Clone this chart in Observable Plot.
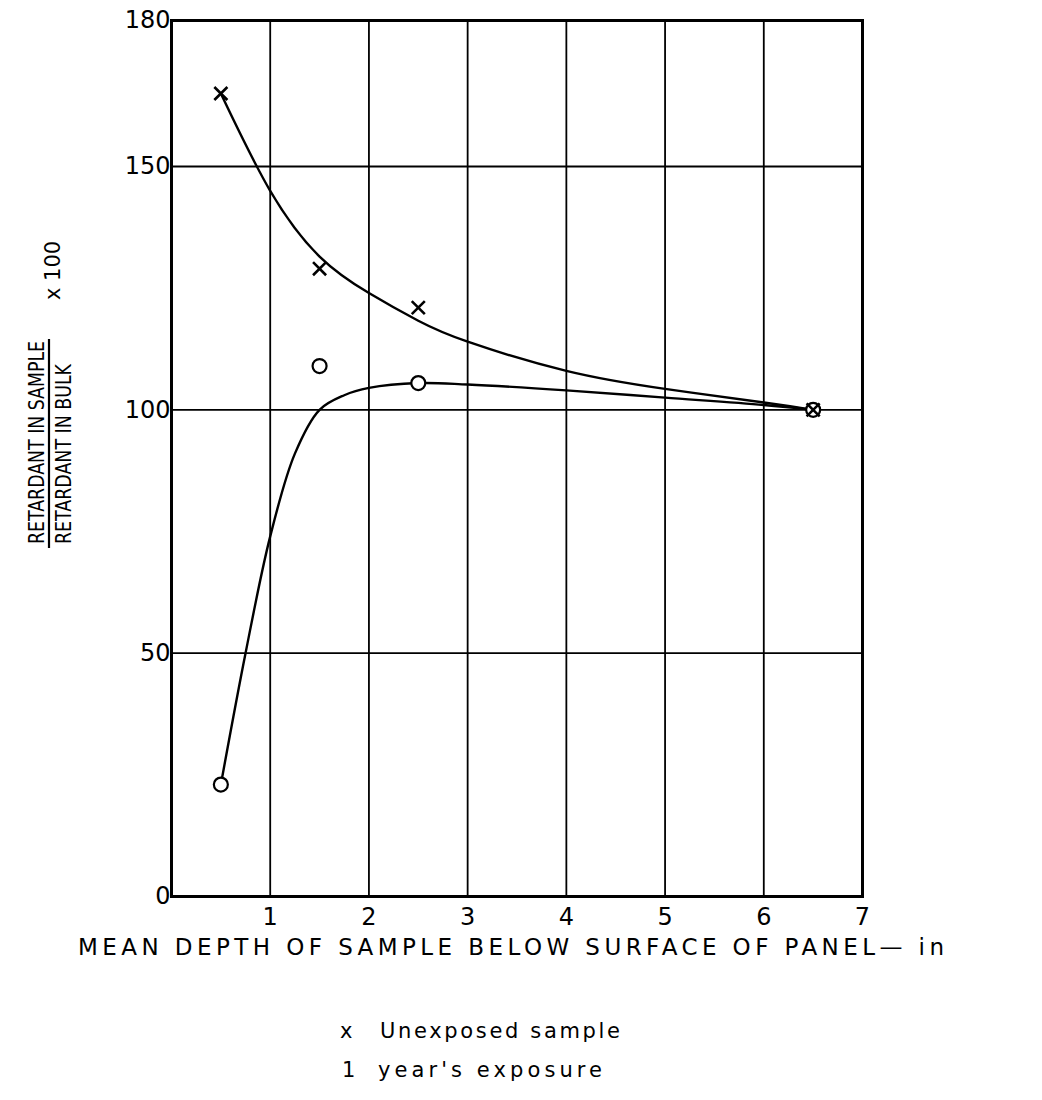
<!DOCTYPE html>
<html><head><meta charset="utf-8">
<script src="https://cdn.jsdelivr.net/npm/d3@7"></script>
<script src="https://cdn.jsdelivr.net/npm/@observablehq/plot@0.6"></script>
<style>
body{margin:0;background:#fff}
#chart{position:relative;width:1042px;height:1100px}
</style></head><body><div id="chart"></div>
<script>
// Data
const unexposedX = [0.5, 1.5, 2.5, 6.5];
const unexposedY = [165, 129, 121, 100];
const exposedX = [0.5, 1.5, 2.5, 6.5];
const exposedY = [23, 109, 105.5, 100];
const upperCurveX = [0.5, 1, 1.5, 2, 2.5, 3, 4, 5, 6, 6.5];
const upperCurveY = [165, 145, 131.5, 124, 118.3, 114, 108, 104.3, 101.5, 100];
const lowerCurveX = [0.5, 0.75, 1, 1.25, 1.5, 1.75, 2, 2.5, 3, 4, 5, 6, 6.5];
const lowerCurveY = [23, 50, 74, 91, 100, 103, 104.5, 105.5, 105.2, 104, 102.5, 101, 100];
const xTicks = [1, 2, 3, 4, 5, 6, 7];
const yTicks = [0, 50, 100, 150, 180];
const gridXValues = [1, 2, 3, 4, 5, 6];
const gridYValues = [50, 100, 150];
const xLabel = "MEAN DEPTH OF SAMPLE BELOW SURFACE OF PANEL\u2014 in";
const yNumerator = "RETARDANT IN SAMPLE";
const yDenominator = "RETARDANT IN BULK";
const yFactor = "x 100";
const legendSymbols = ["x", "1"];
const legendLabels = ["Unexposed sample", "year's exposure"];

const unexposed = unexposedX.map((x, i) => ({x, y: unexposedY[i]}));
const exposed = exposedX.map((x, i) => ({x, y: exposedY[i]}));
const upper = upperCurveX.map((x, i) => ({x, y: upperCurveY[i]}));
const lower = lowerCurveX.map((x, i) => ({x, y: lowerCurveY[i]}));

const FONT = "DejaVu Sans";
const svg = Plot.plot({
  width: 1042,
  height: 1100,
  marginTop: 20,
  marginLeft: 171,
  marginRight: 180,
  marginBottom: 204,
  style: {fontFamily: FONT, fontSize: "24px", color: "black", background: "white"},
  x: {domain: [0, 7], ticks: xTicks, tickSize: 0, tickPadding: 11, label: null, tickFormat: d => String(d)},
  y: {domain: [0, 180], ticks: yTicks, tickSize: 0, tickPadding: 1, label: null, tickFormat: d => String(d)},
  marks: [
    Plot.ruleX(gridXValues, {stroke: "black", strokeWidth: 1.8}),
    Plot.ruleY(gridYValues, {stroke: "black", strokeWidth: 1.8}),
    Plot.frame({stroke: "black", strokeWidth: 3}),
    Plot.line(upper, {x: "x", y: "y", curve: "natural", stroke: "black", strokeWidth: 2.4}),
    Plot.line(lower, {x: "x", y: "y", curve: "catmull-rom", stroke: "black", strokeWidth: 2.4}),
    Plot.dot(exposed, {x: "x", y: "y", symbol: "circle", r: 7, fill: "white", stroke: "black", strokeWidth: 2.2}),
    Plot.dot(unexposed, {x: "x", y: "y", symbol: "times", r: 6, stroke: "black", strokeWidth: 2.6})
  ]
});
document.getElementById("chart").appendChild(svg);

const s = d3.select(svg);
// x-axis title
s.append("text")
  .attr("x", 78).attr("y", 955)
  .attr("text-anchor", "start")
  .attr("font-family", FONT).attr("font-size", 23)
  .attr("textLength", 866).attr("lengthAdjust", "spacing")
  .attr("fill", "black")
  .text(xLabel);

// y-axis title (fraction)
const g = s.append("g").attr("transform", "translate(0,443) rotate(-90)")
  .attr("font-family", FONT).attr("fill", "black");
g.append("text").attr("x", -101).attr("y", 44).attr("text-anchor", "start")
  .attr("font-size", 21).attr("textLength", 203).attr("lengthAdjust", "spacingAndGlyphs").text(yNumerator);
g.append("text").attr("x", -101).attr("y", 71).attr("text-anchor", "start")
  .attr("font-size", 21).attr("textLength", 180).attr("lengthAdjust", "spacingAndGlyphs").text(yDenominator);
g.append("line").attr("x1", -105).attr("x2", 104).attr("y1", 49).attr("y2", 49)
  .attr("stroke", "black").attr("stroke-width", 2.2);
g.append("text").attr("x", 143).attr("y", 60).attr("text-anchor", "start")
  .attr("font-size", 21).text(yFactor);

// legend
const legendY = [1038, 1077];
const legendLengths = [240, 224];
legendSymbols.forEach((sym, i) => {
  s.append("text").attr("x", i === 0 ? 340 : 342).attr("y", legendY[i])
    .attr("text-anchor", "start")
    .attr("font-family", FONT).attr("font-size", 21).attr("fill", "black").text(sym);
  s.append("text").attr("x", i === 0 ? 380 : 378).attr("y", legendY[i])
    .attr("text-anchor", "start")
    .attr("font-family", FONT).attr("font-size", 21)
    .attr("textLength", legendLengths[i]).attr("lengthAdjust", "spacing")
    .attr("fill", "black").text(legendLabels[i]);
});
</script></body></html>
